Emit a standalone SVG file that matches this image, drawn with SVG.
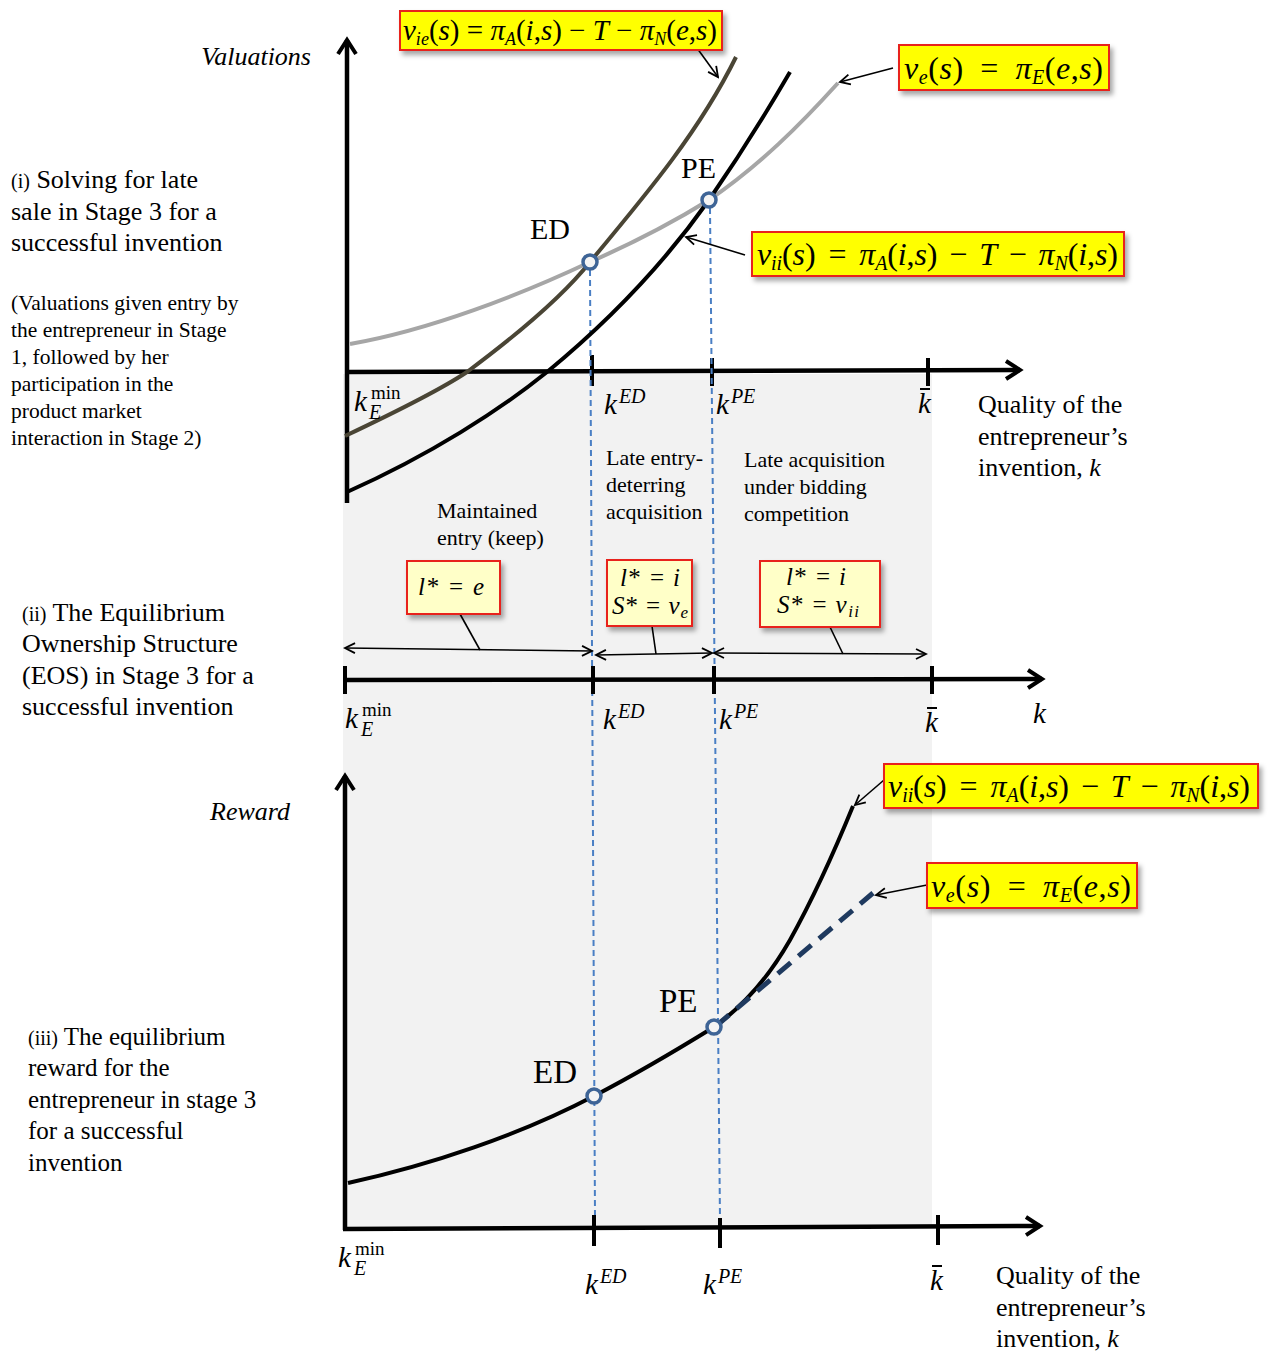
<svg xmlns="http://www.w3.org/2000/svg" width="1268" height="1352" viewBox="0 0 1268 1352">
<defs>
<style>
text{font-family:"Liberation Serif","DejaVu Serif",serif;fill:#000}
.t26{font-size:26px}
.t22{font-size:21.5px}
.r22{font-size:22px}
.i{font-style:italic}
.eq{font-size:32px}
.sub{font-size:20px}
.sub2{font-size:18px}
.kk{font-size:29px;font-style:italic}
.sup{font-size:20px;font-style:italic}
.mn{font-size:19px}
.box{fill:#ffff00;stroke:#e8201e;stroke-width:2}
.lbox{fill:#ffffc8;stroke:#e8201e;stroke-width:2}
.axis{stroke:#000;stroke-width:4.5;fill:none}
.tick{stroke:#000;stroke-width:4}
.vd{stroke:#4a7fc4;stroke-width:2;stroke-dasharray:6 4;fill:none}
.lead{stroke:#000;stroke-width:1.6;fill:none}
.dot{fill:#f4f4f4;stroke:#3e6496;stroke-width:3.5}
</style>
<filter id="sh" x="-10%" y="-20%" width="130%" height="160%">
<feDropShadow dx="3" dy="4" stdDeviation="2.5" flood-color="#000" flood-opacity="0.35"/>
</filter>
<marker id="ax" viewBox="0 0 24 24" markerWidth="24" markerHeight="24" refX="20" refY="12" orient="auto" markerUnits="userSpaceOnUse">
<path d="M6,3 L20,12 L6,21" fill="none" stroke="#000" stroke-width="4"/>
</marker>
<marker id="ar" viewBox="0 0 14 14" markerWidth="14" markerHeight="14" refX="12" refY="7" orient="auto-start-reverse" markerUnits="userSpaceOnUse">
<path d="M2,2 L12,7 L2,12" fill="none" stroke="#000" stroke-width="1.8"/>
</marker>
</defs>

<rect width="1268" height="1352" fill="#fff"/>
<rect id="shade" x="343" y="374" width="589" height="854" fill="#f2f2f2"/>

<!-- Left texts -->
<g id="label-i">
<text class="t26" x="11" y="188"><tspan font-size="20">(i)</tspan>  Solving for late</text>
<text class="t26" x="11" y="220">sale in Stage 3 for a</text>
<text class="t26" x="11" y="251">successful invention</text>
<text class="t22" x="11" y="310">(Valuations given entry by</text>
<text class="t22" x="11" y="337">the entrepreneur in Stage</text>
<text class="t22" x="11" y="364">1, followed by her</text>
<text class="t22" x="11" y="391">participation in the</text>
<text class="t22" x="11" y="418">product market</text>
<text class="t22" x="11" y="445">interaction in Stage 2)</text>
</g>
<g id="label-ii">
<text class="t26" x="22" y="621"><tspan font-size="20">(ii)</tspan>  The Equilibrium</text>
<text class="t26" x="22" y="652">Ownership Structure</text>
<text class="t26" x="22" y="684">(EOS) in Stage 3 for a</text>
<text class="t26" x="22" y="715">successful invention</text>
</g>
<g id="label-iii">
<text font-size="25" x="28" y="1045"><tspan font-size="20">(iii)</tspan> The equilibrium</text>
<text font-size="25" x="28" y="1076">reward for the</text>
<text font-size="25" x="28" y="1108">entrepreneur in stage 3</text>
<text font-size="25" x="28" y="1139">for a successful</text>
<text font-size="25" x="28" y="1171">invention</text>
</g>

<!-- Top chart -->
<g id="top-axes">
<path class="axis" d="M347,503 L347,40" marker-end="url(#ax)"/>
<path class="axis" d="M347,372 L1020,370" marker-end="url(#ax)"/>
<line class="tick" x1="592" y1="355" x2="592" y2="386"/>
<line class="tick" x1="712" y1="358" x2="712" y2="386"/>
<line class="tick" x1="928" y1="358" x2="928" y2="386"/>
<text class="t26 i" x="311" y="65" text-anchor="end">Valuations</text>
<text class="t26" x="978" y="413">Quality of the</text>
<text class="t26" x="978" y="445">entrepreneur’s</text>
<text class="t26" x="978" y="476">invention, <tspan class="i">k</tspan></text>
</g>

<g id="connectors">
<path class="vd" d="M590,270 L595,1218"/>
<path class="vd" d="M710,208 L720,1220"/>
<path d="M350,344 C430,330 520,295 590,262 C640,240 680,218 709,200 C760,165 800,125 838,83" fill="none" stroke="#a6a6a6" stroke-width="4"/>
<path d="M345,436 C400,410 440,390 467,372 C510,340 560,300 590,262 C650,190 700,130 736,57" fill="none" stroke="#4a4535" stroke-width="4"/>
<path d="M347,492 C430,455 500,410 547,372 C620,312 670,255 709,200 C740,155 765,115 790,72" fill="none" stroke="#000" stroke-width="4"/>
<path class="lead" d="M697,48 L718,77" marker-end="url(#ar)"/>
<path class="lead" d="M893,68 L840,82" marker-end="url(#ar)"/>
<path class="lead" d="M745,255 L686,237" marker-end="url(#ar)"/>
<!-- middle arrows -->
<path class="lead" d="M345,648 L592,651" marker-start="url(#ar)" marker-end="url(#ar)"/>
<path class="lead" d="M596,655 L712,653" marker-start="url(#ar)" marker-end="url(#ar)"/>
<path class="lead" d="M714,653 L926,654" marker-start="url(#ar)" marker-end="url(#ar)"/>
<path class="lead" d="M460,614 L480,650"/>
<path class="lead" d="M652,626 L656,654"/>
<path class="lead" d="M830,627 L843,654"/>
<!-- bottom curves -->
<path d="M348,1183 C430,1165 520,1135 594,1096 C640,1072 680,1048 714,1027 C745,1005 770,975 790,940 C815,895 835,850 853,806" fill="none" stroke="#000" stroke-width="4"/>
<path d="M716,1026 L873,893" fill="none" stroke="#1f3a5f" stroke-width="5" stroke-dasharray="17 10"/>
<path class="lead" d="M884,780 L855,805" marker-end="url(#ar)"/>
<path class="lead" d="M927,885 L876,895" marker-end="url(#ar)"/>
</g>

<g id="pt-ED-top"><circle class="dot" cx="590" cy="262" r="7"/><text font-size="30" x="530" y="239">ED</text></g>
<g id="pt-PE-top"><circle class="dot" cx="709" cy="200" r="7"/><text font-size="30" x="681" y="178">PE</text></g>

<g id="k-top">
<text class="kk" x="354" y="411">k</text><text class="mn" x="371" y="399">min</text><text class="sup" x="369" y="419">E</text>
<text class="kk" x="604" y="414">k<tspan class="sup" dy="-11" dx="2">ED</tspan></text>
<text class="kk" x="716" y="414">k<tspan class="sup" dy="-11" dx="2">PE</tspan></text>
<text class="kk" x="918" y="413">k</text><line x1="920" y1="389" x2="930" y2="389" stroke="#000" stroke-width="2"/>
</g>

<g id="eq-vie">
<rect class="box" x="400" y="11" width="322" height="39" filter="url(#sh)"/>
<text font-size="29" x="403" y="40" textLength="314" lengthAdjust="spacing"><tspan class="i">v</tspan><tspan class="i sub2" dy="5">ie</tspan><tspan dy="-5">(</tspan><tspan class="i">s</tspan>) = <tspan class="i">π</tspan><tspan class="i sub2" dy="5">A</tspan><tspan dy="-5">(</tspan><tspan class="i">i</tspan>,<tspan class="i">s</tspan>) − <tspan class="i">T</tspan> − <tspan class="i">π</tspan><tspan class="i sub2" dy="5">N</tspan><tspan dy="-5">(</tspan><tspan class="i">e</tspan>,<tspan class="i">s</tspan>)</text>
</g>
<g id="eq-ve-top">
<rect class="box" x="899" y="45" width="210" height="45" filter="url(#sh)"/>
<text class="eq" x="904" y="79" textLength="199" lengthAdjust="spacing"><tspan class="i">v</tspan><tspan class="i sub" dy="5">e</tspan><tspan dy="-5">(</tspan><tspan class="i">s</tspan>) <tspan dx="8">=</tspan> <tspan class="i" dx="8">π</tspan><tspan class="i sub" dy="5">E</tspan><tspan dy="-5">(</tspan><tspan class="i">e</tspan>,<tspan class="i">s</tspan>)</text>
</g>
<g id="eq-vii-top">
<rect class="box" x="752" y="232" width="372" height="44" filter="url(#sh)"/>
<text class="eq" x="757" y="265" textLength="361" lengthAdjust="spacing"><tspan class="i">v</tspan><tspan class="i sub" dy="5">ii</tspan><tspan dy="-5">(</tspan><tspan class="i">s</tspan>) <tspan dx="5">=</tspan> <tspan class="i" dx="5">π</tspan><tspan class="i sub" dy="5">A</tspan><tspan dy="-5">(</tspan><tspan class="i">i</tspan>,<tspan class="i">s</tspan>) <tspan dx="4">−</tspan> <tspan class="i" dx="4">T</tspan> <tspan dx="4">−</tspan> <tspan class="i" dx="4">π</tspan><tspan class="i sub" dy="5">N</tspan><tspan dy="-5">(</tspan><tspan class="i">i</tspan>,<tspan class="i">s</tspan>)</text>
</g>

<!-- Middle section -->
<g id="region-texts">
<text class="r22" x="437" y="518">Maintained</text>
<text class="r22" x="437" y="545">entry (keep)</text>
<text class="r22" x="606" y="465">Late entry-</text>
<text class="r22" x="606" y="492">deterring</text>
<text class="r22" x="606" y="519">acquisition</text>
<text class="r22" x="744" y="467">Late acquisition</text>
<text class="r22" x="744" y="494">under bidding</text>
<text class="r22" x="744" y="521">competition</text>
</g>
<g id="eos-keep">
<rect class="lbox" x="407" y="561" width="93" height="53" filter="url(#sh)"/>
<text font-size="25" x="418" y="595" textLength="66" lengthAdjust="spacing"><tspan class="i">l</tspan>* = <tspan class="i">e</tspan></text>
</g>
<g id="eos-ed">
<rect class="lbox" x="607" y="560" width="85" height="66" filter="url(#sh)"/>
<text font-size="25" x="620" y="586" textLength="60" lengthAdjust="spacing"><tspan class="i">l</tspan>* = <tspan class="i">i</tspan></text>
<text font-size="25" x="612" y="614" textLength="76" lengthAdjust="spacing"><tspan class="i">S</tspan>* = <tspan class="i">v</tspan><tspan class="i" font-size="17" dy="4">e</tspan></text>
</g>
<g id="eos-pe">
<rect class="lbox" x="760" y="561" width="120" height="66" filter="url(#sh)"/>
<text font-size="25" x="786" y="585" textLength="60" lengthAdjust="spacing"><tspan class="i">l</tspan>* = <tspan class="i">i</tspan></text>
<text font-size="25" x="777" y="613" textLength="82" lengthAdjust="spacing"><tspan class="i">S</tspan>* = <tspan class="i">v</tspan><tspan class="i" font-size="17" dy="4">ii</tspan></text>
</g>
<g id="mid-axis">
<path class="axis" d="M343,680 L1042,679" marker-end="url(#ax)"/>
<line class="tick" x1="345" y1="666" x2="345" y2="694"/>
<line class="tick" x1="593" y1="666" x2="593" y2="694"/>
<line class="tick" x1="714" y1="666" x2="714" y2="694"/>
<line class="tick" x1="932" y1="666" x2="932" y2="694"/>
<text class="kk" x="345" y="728">k</text><text class="mn" x="362" y="716">min</text><text class="sup" x="361" y="736">E</text>
<text class="kk" x="603" y="729">k<tspan class="sup" dy="-11" dx="2">ED</tspan></text>
<text class="kk" x="719" y="729">k<tspan class="sup" dy="-11" dx="2">PE</tspan></text>
<text class="kk" x="925" y="732">k</text><line x1="927" y1="708" x2="937" y2="708" stroke="#000" stroke-width="2"/>
<text class="kk" x="1033" y="723">k</text>
</g>

<!-- Bottom chart -->
<g id="bottom-axes">
<path class="axis" d="M345,1230 L345,776" marker-end="url(#ax)"/>
<path class="axis" d="M343,1229 L1040,1226" marker-end="url(#ax)"/>
<line class="tick" x1="594" y1="1215" x2="594" y2="1246"/>
<line class="tick" x1="720" y1="1218" x2="720" y2="1248"/>
<line class="tick" x1="938" y1="1215" x2="938" y2="1245"/>
<text class="t26 i" x="290" y="820" text-anchor="end">Reward</text>
<text class="kk" x="338" y="1267">k</text><text class="mn" x="355" y="1255">min</text><text class="sup" x="354" y="1275">E</text>
<text class="kk" x="585" y="1294">k<tspan class="sup" dy="-11" dx="2">ED</tspan></text>
<text class="kk" x="703" y="1294">k<tspan class="sup" dy="-11" dx="2">PE</tspan></text>
<text class="kk" x="930" y="1290">k</text><line x1="932" y1="1266" x2="942" y2="1266" stroke="#000" stroke-width="2"/>
<text class="t26" x="996" y="1284">Quality of the</text>
<text class="t26" x="996" y="1316">entrepreneur’s</text>
<text class="t26" x="996" y="1347">invention, <tspan class="i">k</tspan></text>
</g>
<g id="pt-ED-bot"><circle class="dot" cx="594" cy="1096" r="7"/><text font-size="33" x="533" y="1083">ED</text></g>
<g id="pt-PE-bot"><circle class="dot" cx="714" cy="1027" r="7"/><text font-size="33" x="659" y="1012">PE</text></g>
<g id="eq-vii-bot">
<rect class="box" x="884" y="764" width="374" height="44" filter="url(#sh)"/>
<text class="eq" x="888" y="797" textLength="362" lengthAdjust="spacing"><tspan class="i">v</tspan><tspan class="i sub" dy="5">ii</tspan><tspan dy="-5">(</tspan><tspan class="i">s</tspan>) <tspan dx="5">=</tspan> <tspan class="i" dx="5">π</tspan><tspan class="i sub" dy="5">A</tspan><tspan dy="-5">(</tspan><tspan class="i">i</tspan>,<tspan class="i">s</tspan>) <tspan dx="4">−</tspan> <tspan class="i" dx="4">T</tspan> <tspan dx="4">−</tspan> <tspan class="i" dx="4">π</tspan><tspan class="i sub" dy="5">N</tspan><tspan dy="-5">(</tspan><tspan class="i">i</tspan>,<tspan class="i">s</tspan>)</text>
</g>
<g id="eq-ve-bot">
<rect class="box" x="927" y="863" width="210" height="45" filter="url(#sh)"/>
<text class="eq" x="931" y="897" textLength="200" lengthAdjust="spacing"><tspan class="i">v</tspan><tspan class="i sub" dy="5">e</tspan><tspan dy="-5">(</tspan><tspan class="i">s</tspan>) <tspan dx="8">=</tspan> <tspan class="i" dx="8">π</tspan><tspan class="i sub" dy="5">E</tspan><tspan dy="-5">(</tspan><tspan class="i">e</tspan>,<tspan class="i">s</tspan>)</text>
</g>
</svg>
